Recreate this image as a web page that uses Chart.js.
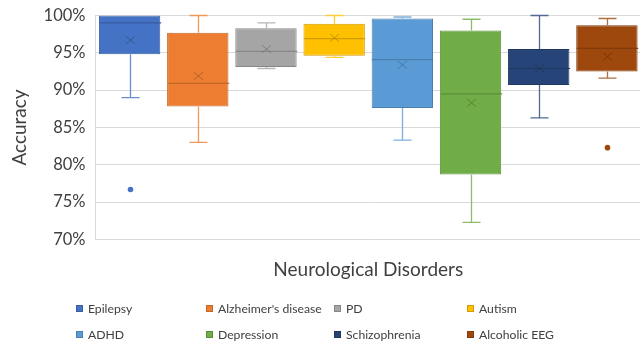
<!DOCTYPE html>
<html>
<head>
<meta charset="utf-8">
<script src="https://cdn.jsdelivr.net/npm/chart.js@4/dist/chart.umd.min.js"></script>
<style>
  html, body { margin: 0; padding: 0; background: #ffffff; overflow: hidden; }
  #wrap { position: relative; width: 641px; height: 346px; }
  #legend {
    position: absolute; left: 76px; top: 298px;
    display: grid; grid-template-columns: 130px 128px 133px 120px; grid-auto-rows: 26.5px;
    font-family: Lato, "Open Sans", sans-serif; font-size: 12.2px; color: #404040;
  }
  .item { display: flex; align-items: center; white-space: nowrap; height: 20px; }
  .sw { width: 7px; height: 7px; margin-right: 5px; box-sizing: border-box; border: 1px solid; }
</style>
</head>
<body>
<div id="wrap">
  <canvas id="chart" width="641" height="346"></canvas>
  <div id="legend"></div>
</div>
<script>
// Accuracy distributions (%) per disorder: box-and-whisker statistics
const categories = ['Epilepsy', "Alzheimer's disease", 'PD', 'Autism', 'ADHD', 'Depression', 'Schizophrenia', 'Alcoholic EEG'];
const minVals    = [89.0, 83.0, 92.9, 94.4, 83.3, 72.3, 86.3, 91.6];
const q1Vals     = [94.8, 87.8, 93.1, 94.6, 87.6, 78.7, 90.7, 92.5];
const medianVals = [99.0, 90.9, 95.2, 96.9, 94.1, 89.5, 92.9, 95.6];
const q3Vals     = [100.0, 97.7, 98.3, 98.9, 99.6, 98.0, 95.5, 98.7];
const maxVals    = [100.0, 100.0, 99.0, 100.0, 99.8, 99.5, 100.0, 99.6];
const meanVals   = [96.7, 91.9, 95.5, 97.0, 93.4, 88.3, 92.9, 94.5];
const outlierVals = [[76.7], [], [], [], [], [], [], [82.3]];
const yTicks = [70, 75, 80, 85, 90, 95, 100];

const colors = ['#4472C4', '#ED7D31', '#A5A5A5', '#FFC000', '#5B9BD5', '#70AD47', '#264478', '#9E480E'];

function mix(hex, target, t) {
  const n = parseInt(hex.slice(1), 16);
  const r = (n >> 16) & 255, g = (n >> 8) & 255, b = n & 255;
  const m = c => Math.round(c + (target - c) * t);
  return `rgb(${m(r)},${m(g)},${m(b)})`;
}
const darker = c => mix(c, 0, 0.18);
const lighter = c => mix(c, 255, 0.2);

const datasets = categories.map((name, i) => ({
  label: name,
  data: [[q1Vals[i], q3Vals[i]]],
  backgroundColor: colors[i],
  borderColor: darker(colors[i]),
  borderWidth: 1,
  borderSkipped: false,
  barPercentage: 0.9,
  categoryPercentage: 1.0
}));

// Whiskers, median line, mean cross and outlier dots on top of each box
const boxExtras = {
  id: 'boxExtras',
  afterDatasetsDraw(chart) {
    const ctx = chart.ctx;
    const ys = chart.scales.y;
    chart.data.datasets.forEach((ds, i) => {
      const bar = chart.getDatasetMeta(i).data[0];
      const cx = Math.round(bar.x) + 0.5;
      const half = bar.width / 2;
      const cap = 9;
      const pMin = ys.getPixelForValue(minVals[i]);
      const pQ1 = ys.getPixelForValue(q1Vals[i]);
      const pQ3 = ys.getPixelForValue(q3Vals[i]);
      const pMax = ys.getPixelForValue(maxVals[i]);
      const pMed = ys.getPixelForValue(medianVals[i]);
      const pMean = ys.getPixelForValue(meanVals[i]);
      ctx.save();
      // whiskers
      ctx.strokeStyle = lighter(colors[i]);
      ctx.lineWidth = 1.3;
      ctx.beginPath();
      if (maxVals[i] > q3Vals[i]) {
        ctx.moveTo(cx, pQ3); ctx.lineTo(cx, pMax);
        ctx.moveTo(cx - cap, pMax); ctx.lineTo(cx + cap, pMax);
      }
      if (minVals[i] < q1Vals[i]) {
        ctx.moveTo(cx, pQ1); ctx.lineTo(cx, pMin);
        ctx.moveTo(cx - cap, pMin); ctx.lineTo(cx + cap, pMin);
      }
      ctx.stroke();
      // median
      ctx.strokeStyle = darker(colors[i]);
      ctx.lineWidth = 1.2;
      ctx.beginPath();
      ctx.moveTo(cx - half, pMed); ctx.lineTo(cx + half, pMed);
      ctx.stroke();
      // mean marker
      const s = 4.5;
      ctx.strokeStyle = mix(colors[i], 0, 0.3);
      ctx.globalAlpha = 0.75;
      ctx.lineWidth = 1;
      ctx.beginPath();
      ctx.moveTo(cx - s, pMean - s * 0.85); ctx.lineTo(cx + s, pMean + s * 0.85);
      ctx.moveTo(cx - s, pMean + s * 0.85); ctx.lineTo(cx + s, pMean - s * 0.85);
      ctx.stroke();
      ctx.globalAlpha = 1;
      // outliers
      ctx.fillStyle = colors[i];
      outlierVals[i].forEach(v => {
        ctx.beginPath();
        ctx.arc(cx, ys.getPixelForValue(v), 2.8, 0, Math.PI * 2);
        ctx.fill();
      });
      ctx.restore();
    });
  }
};

const chart = new Chart(document.getElementById('chart'), {
  type: 'bar',
  data: { labels: [''], datasets },
  plugins: [boxExtras],
  options: {
    responsive: false,
    animation: false,
    layout: { padding: { top: 15.5, right: 0, bottom: 61.5, left: 0 } },
    plugins: { legend: { display: false }, tooltip: { enabled: false } },
    scales: {
      x: {
        grid: { display: false },
        border: { display: false },
        ticks: { display: false },
        title: {
          display: true, text: 'Neurological Disorders', color: '#404040',
          font: { family: 'Lato', size: 19 }, padding: { top: 0, bottom: 3 }
        },
        afterFit(scale) { scale.height = 45; }
      },
      y: {
        min: 70, max: 100,
        afterBuildTicks(scale) { scale.ticks = yTicks.map(v => ({ value: v })); },
        ticks: {
          callback: v => v + '%', color: '#404040', padding: 10,
          font: { family: 'Lato', size: 16.5 }
        },
        grid: { color: '#D9D9D9', drawTicks: false, lineWidth: 1 },
        border: { display: true, color: '#D9D9D9' },
        title: {
          display: true, text: 'Accuracy', color: '#404040',
          font: { family: 'Lato', size: 19 }, padding: { top: 8, bottom: 0 }
        },
        afterFit(scale) {
          scale.width = 95.5;
          scale.paddingTop = 0;
          scale.paddingBottom = 0;
        }
      }
    }
  }
});

// Legend grid built from the chart's datasets
const legend = document.getElementById('legend');
chart.data.datasets.forEach(ds => {
  const item = document.createElement('div');
  item.className = 'item';
  const sw = document.createElement('span');
  sw.className = 'sw';
  sw.style.background = ds.backgroundColor;
  sw.style.borderColor = ds.borderColor;
  const tx = document.createElement('span');
  tx.textContent = ds.label;
  item.appendChild(sw); item.appendChild(tx);
  legend.appendChild(item);
});
</script>
</body>
</html>
